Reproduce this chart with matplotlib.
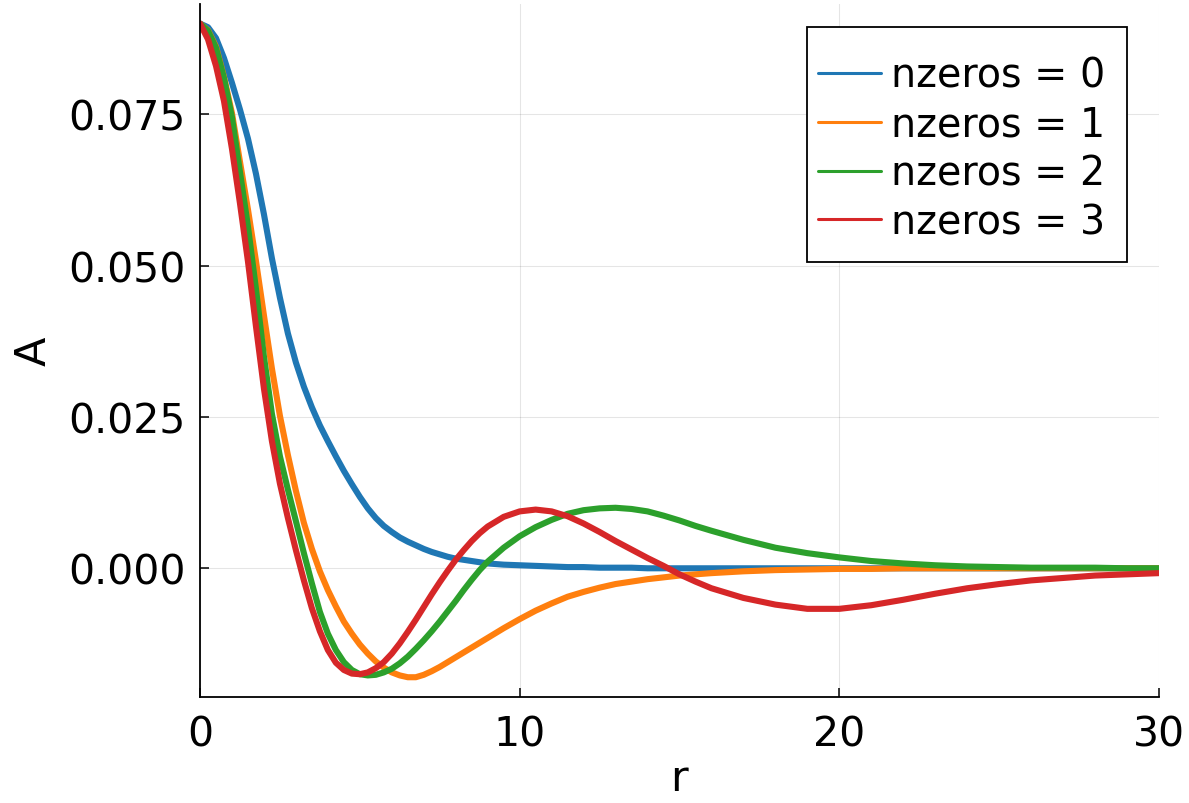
import numpy as np
import matplotlib
matplotlib.use("Agg")
import matplotlib.pyplot as plt
from matplotlib.patches import Rectangle

# valeurs (pas de 0.25 jusqu'a 9, puis 0.5 jusqu'a 16, puis 1)
r = [0, 0.25, 0.5, 0.75, 1, 1.25, 1.5, 1.75, 2, 2.25, 2.5, 2.75, 3, 3.25, 3.5, 3.75,
     4, 4.25, 4.5, 4.75, 5, 5.25, 5.5, 5.75, 6, 6.25, 6.5, 6.75, 7, 7.25, 7.5, 7.75,
     8, 8.25, 8.5, 8.75, 9,
     9.5, 10, 10.5, 11, 11.5, 12, 12.5, 13, 13.5, 14, 14.5, 15, 15.5, 16,
     17, 18, 19, 20, 21, 22, 23, 24, 25, 26, 27, 28, 29, 30]

A0 = [0.0900, 0.0894, 0.0876, 0.0843, 0.0802, 0.0758, 0.0710, 0.0652, 0.0585,
      0.0512, 0.0447, 0.0388, 0.0340, 0.0300, 0.0266, 0.0236, 0.0210,
      0.0185, 0.0161, 0.0139, 0.0118, 0.0099, 0.0083, 0.0070, 0.0060,
      0.0051, 0.0044, 0.0038, 0.0032, 0.0027, 0.0023, 0.0019, 0.0016,
      0.0014, 0.0012, 0.0010, 0.0008,
      0.0006, 0.0005, 0.0004, 0.0003, 0.0002, 0.0002, 0.0001, 0.0001, 0.0001, 0.0000,
      0.0000, 0.0000, 0.0000, 0.0000,
      0.0000, 0.0000, 0.0000, 0.0000, 0.0000, 0.0000, 0.0000, 0.0000, 0.0000, 0.0000,
      0.0000, 0.0000, 0.0000, 0.0000]

A1 = [0.0900, 0.0889, 0.0862, 0.0812, 0.0752, 0.0672, 0.0593, 0.0508, 0.0418,
      0.0330, 0.0252, 0.0187, 0.0128, 0.0075, 0.0032, -0.0005, -0.0036,
      -0.0063, -0.0088, -0.0108, -0.0126, -0.0141, -0.0154, -0.0164, -0.0172,
      -0.0177, -0.0180, -0.0180, -0.0176, -0.0170, -0.0163, -0.0155, -0.0147,
      -0.0139, -0.0131, -0.0123, -0.0115,
      -0.0099, -0.0084, -0.0070, -0.0058, -0.0047, -0.0039, -0.0032, -0.0026, -0.0022, -0.0018,
      -0.0015, -0.0012, -0.0010, -0.0008,
      -0.0005, -0.0003, -0.0002, -0.0001, -0.0001, 0.0000, 0.0000, 0.0000, 0.0000, 0.0000,
      0.0000, 0.0000, 0.0000, 0.0000]

A2 = [0.0900, 0.0888, 0.0860, 0.0810, 0.0745, 0.0655, 0.0565, 0.0462, 0.0350,
      0.0255, 0.0185, 0.0130, 0.0078, 0.0025, -0.0025, -0.0072, -0.0108,
      -0.0135, -0.0155, -0.0168, -0.0175, -0.0177, -0.0176, -0.0172, -0.0166,
      -0.0157, -0.0146, -0.0133, -0.0119, -0.0104, -0.0088, -0.0071, -0.0054,
      -0.0036, -0.0019, -0.0003, 0.0011,
      0.0034, 0.0053, 0.0068, 0.0080, 0.0090, 0.0096, 0.0099, 0.0100, 0.0098, 0.0094,
      0.0087, 0.0079, 0.0070, 0.0062,
      0.0047, 0.0034, 0.0025, 0.0018, 0.0012, 0.0008, 0.0005, 0.0003, 0.0002, 0.0001,
      0.0001, 0.0001, 0.0000, 0.0000]

A3 = [0.0900, 0.0874, 0.0830, 0.0772, 0.0693, 0.0603, 0.0507, 0.0400, 0.0297,
      0.0210, 0.0140, 0.0083, 0.0030, -0.0020, -0.0066, -0.0104, -0.0135,
      -0.0156, -0.0168, -0.0174, -0.0175, -0.0172, -0.0165, -0.0155, -0.0141,
      -0.0124, -0.0105, -0.0085, -0.0064, -0.0043, -0.0023, -0.0004, 0.0014,
      0.0030, 0.0045, 0.0058, 0.0069,
      0.0085, 0.0094, 0.0097, 0.0094, 0.0086, 0.0074, 0.0060, 0.0045, 0.0031, 0.0017,
      0.0004, -0.0010, -0.0022, -0.0033,
      -0.0049, -0.0060, -0.0067, -0.0067, -0.0061, -0.0052, -0.0042, -0.0033, -0.0026, -0.0020,
      -0.0016, -0.0012, -0.0010, -0.0008]

series = [A0, A1, A2, A3]
labels = ["nzeros = 0", "nzeros = 1", "nzeros = 2", "nzeros = 3"]
couleurs = ["#1f77b4", "#ff7f0e", "#2ca02c", "#d62728"]

x_ticks = [0, 10, 20, 30]
y_ticks = [0.0, 0.025, 0.050, 0.075]

plt.rcParams['font.family'] = ['DejaVu Sans']

W, H = 1189, 804
fig = plt.figure(figsize=(W/100, H/100), dpi=100)
ax = fig.add_axes([200/W, 1-697.6/H, 959/W, 692.4/H])

for A, lab, c in zip(series, labels, couleurs):
    ax.plot(r, A, color=c, linewidth=4.4, label=lab,
            solid_capstyle='round', solid_joinstyle='round')

ax.set_xlim(0, 30)
ax.set_ylim(-0.0212, 0.0932)
ax.set_xticks(x_ticks)
ax.set_yticks(y_ticks)
ax.set_yticklabels(["%.3f" % v for v in y_ticks])
ax.grid(True, color="black", alpha=0.1, linewidth=0.8)
ax.set_axisbelow(True)

for s in ["top", "right"]:
    ax.spines[s].set_visible(False)
for s in ["left", "bottom"]:
    ax.spines[s].set_linewidth(1.3)

ax.tick_params(direction="in", length=6.5, width=1.1, labelsize=29.5)
ax.tick_params(axis="x", pad=13)
ax.tick_params(axis="y", pad=10)
ax.set_xlabel("r", fontsize=31, labelpad=2)
ax.set_ylabel("A", fontsize=31, labelpad=10)

# cadre de la legende dessine a part (marges differentes en x et en y)
cadre = Rectangle((807/W, 1-263/H), 320/W, 235/H, transform=fig.transFigure,
                  facecolor="white", edgecolor="black", linewidth=1.3,
                  zorder=4, clip_on=False)
ax.add_patch(cadre)

leg = ax.legend(loc="upper left", bbox_to_anchor=(818/W, 1-57/H),
                bbox_transform=fig.transFigure, borderaxespad=0, borderpad=0,
                fontsize=28.5, frameon=False,
                handlelength=1.6, handletextpad=0.25, labelspacing=0.22)
leg.set_zorder(5)
for l in leg.get_lines():
    l.set_linewidth(2.2)

plt.savefig("out.png", dpi=100)
